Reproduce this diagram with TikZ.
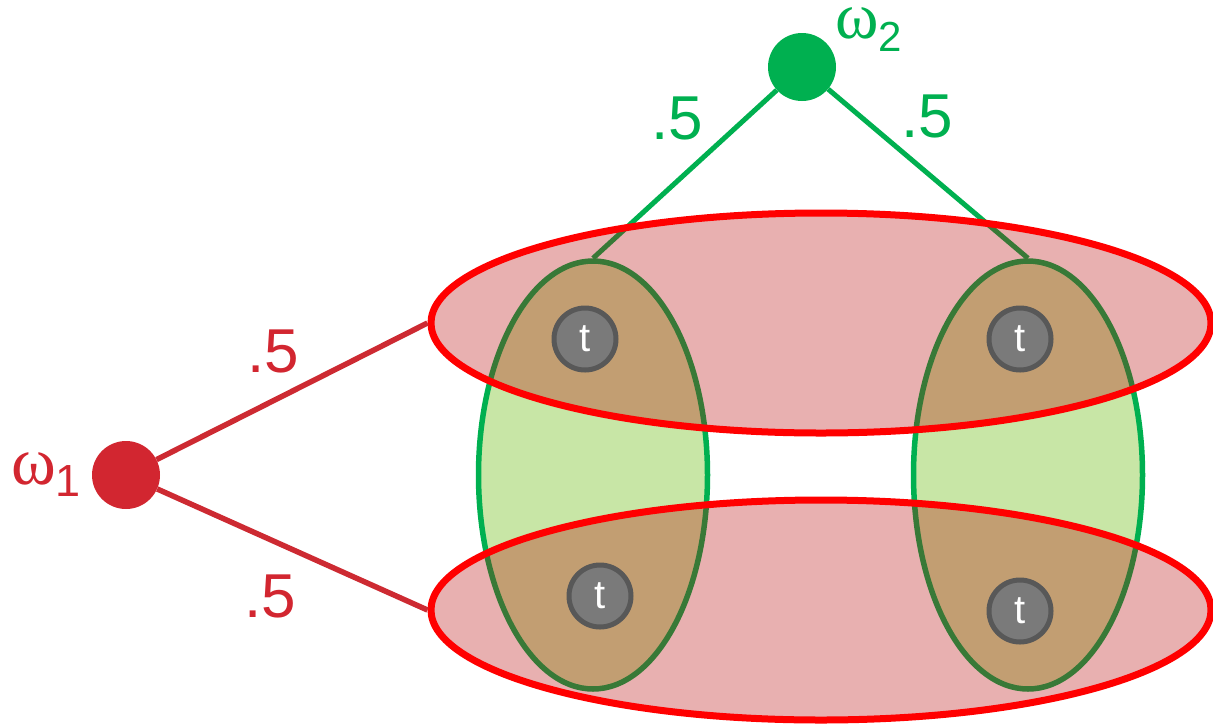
\documentclass[tikz,border=0pt]{standalone}
\usepackage{fontspec}
\setmainfont{Liberation Sans}
\newfontfamily\omfont{Liberation Serif}
\usetikzlibrary{shapes.geometric}
\definecolor{nodered}{RGB}{210,38,48}
\definecolor{linered}{RGB}{205,42,50}
\definecolor{pgreen}{RGB}{0,176,80}
\definecolor{lgreen}{RGB}{200,230,166}
\definecolor{redfill}{RGB}{182,0,0}
\definecolor{tfill}{RGB}{122,122,122}
\definecolor{tdraw}{RGB}{88,88,88}
\begin{document}
\begin{tikzpicture}[x=1pt,y=-1pt,
  gell/.style={ellipse,draw=pgreen,fill=lgreen,line width=5.5pt,inner sep=0pt,minimum width=229pt,minimum height=428pt},
  rell/.style={ellipse,draw=red,fill=redfill,fill opacity=0.31,draw opacity=1,line width=7pt,inner sep=0pt,minimum width=780pt,minimum height=220pt},
  tnode/.style={circle,fill=tfill,draw=tdraw,line width=5pt,inner sep=0pt,minimum size=62pt,text=white,font=\fontsize{40}{40}\selectfont},
  wnode/.style={circle,inner sep=0pt,minimum size=68pt},
  gline/.style={pgreen,line width=5pt},
  rline/.style={linered,line width=5.5pt},
  plab/.style={font=\fontsize{62}{62}\selectfont,inner sep=0pt},
  wlab/.style={inner sep=0pt,anchor=base west},
]
\useasboundingbox (0,0) rectangle (1213,724);
% probability nodes
\node[wnode,fill=nodered] (w1) at (126,475) {};
\node[wnode,fill=pgreen] (w2) at (802,67) {};
% green ellipses
\node[gell] (gl) at (593,475) {};
\node[gell] (gr) at (1028,475) {};
\draw[gline] (w2) -- (gl.north);
\draw[gline] (w2) -- (gr.north);
% red ellipses
\node[rell] (rt) at (821,323) {};
\node[rell] (rb) at (821,610) {};
\draw[rline] (w1) -- (rt.west);
\draw[rline] (w1) -- (rb.west);
% t nodes
\node[tnode] (t1) at (585,339) {t};
\node[tnode] (t2) at (1020,339) {t};
\node[tnode] (t3) at (600,596) {t};
\node[tnode] (t4) at (1020,611) {t};
% labels
\node[plab,text=pgreen] (l1) at (677,118) {.5};
\node[plab,text=pgreen] (l2) at (927,116) {.5};
\node[plab,text=nodered] (l3) at (273,351) {.5};
\node[plab,text=nodered] (l4) at (270,596) {.5};
\node[wlab,text=nodered] (n1) at (11,484) {{\omfont\fontsize{68}{68}\selectfont ω}\raisebox{-12pt}{\fontsize{45}{45}\selectfont 1}};
\node[wlab,text=pgreen] (n2) at (835,38) {{\omfont\fontsize{66}{66}\selectfont ω}\raisebox{-13pt}{\fontsize{42}{42}\selectfont 2}};
\end{tikzpicture}
\end{document}
